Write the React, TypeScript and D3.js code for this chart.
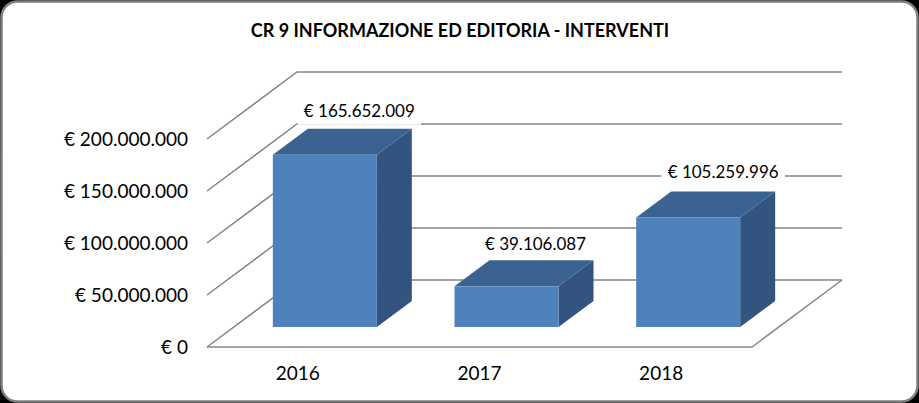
import * as d3 from 'd3';

const categories = ['2016', '2017', '2018'];
const values = [165652009, 39106087, 105259996];
const valueLabels = ['€ 165.652.009', '€ 39.106.087', '€ 105.259.996'];
const yTicks = [0, 50000000, 100000000, 150000000, 200000000];
const yTickLabels = ['€ 0', '€ 50.000.000', '€ 100.000.000', '€ 150.000.000', '€ 200.000.000'];

const width = 919;
const height = 403;
const font = 'Lato, Carlito, Calibri, sans-serif';

// oblique offset of the back wall and of the bars
const wall = { dx: 90, dy: -67 };
const barShift = { dx: 27, dy: -20 };
const barDepth = { dx: 35, dy: -26 };
// data labels were placed by hand in the original
const labelNudge = [
  { dx: 34.5, dy: -38 },
  { dx: 29, dy: -36 },
  { dx: 35, dy: -40 },
];

const x = d3.scaleBand<string>()
  .domain(categories)
  .range([207, 752])
  .paddingInner(0.4275)
  .paddingOuter(0.21375);

const y = d3.scaleLinear().domain([0, 200000000]).range([347, 139]);

const line = d3.line();

export default function App() {
  const floorY = y(0);
  const xLeft = x.range()[0];
  const xRight = x.range()[1];

  return (
    <svg
      width={width}
      height={height}
      style={{ position: 'absolute', left: 0, top: 0, display: 'block', background: '#000' }}
    >
      <rect x={1.5} y={1.5} width={width - 3} height={height - 3} rx={16} fill="#fff" stroke="#7f7f7f" strokeWidth={2.5} />

      <text x={460} y={36.5} textAnchor="middle" fontFamily={font} fontWeight={700} fontSize={18} fill="#000">
        CR 9 INFORMAZIONE ED EDITORIA - INTERVENTI
      </text>

      {/* walls and floor */}
      <g fill="none" stroke="#868686" strokeWidth={1.5}>
        {yTicks.map(t => (
          <path
            key={t}
            d={line([
              [xLeft, y(t)],
              [xLeft + wall.dx, y(t) + wall.dy],
              [xRight + wall.dx, y(t) + wall.dy],
            ]) as string}
          />
        ))}
        <path
          d={line([
            [xLeft, floorY],
            [xRight, floorY],
            [xRight + wall.dx, floorY + wall.dy],
          ]) as string}
        />
      </g>

      {/* bars */}
      {categories.map((c, i) => {
        const x0 = (x(c) as number) + barShift.dx;
        const x1 = x0 + x.bandwidth();
        const bottom = floorY + barShift.dy;
        const top = y(values[i]) + barShift.dy;
        const { dx, dy } = barDepth;
        return (
          <g key={c}>
            <path fill="#32547E" d={line([[x1, top], [x1 + dx, top + dy], [x1 + dx, bottom + dy], [x1, bottom]]) + 'Z'} />
            <path fill="#3B6391" d={line([[x0, top], [x0 + dx, top + dy], [x1 + dx, top + dy], [x1, top]]) + 'Z'} />
            <rect x={x0} y={top} width={x.bandwidth()} height={bottom - top} fill="#4F81BD" />
          </g>
        );
      })}

      {/* data labels sit on a white box that cuts the gridlines */}
      {categories.map((c, i) => {
        const cx = (x(c) as number) + barShift.dx + x.bandwidth() / 2 + labelNudge[i].dx;
        const top = y(values[i]) + barShift.dy;
        const boxW = valueLabels[i].length * 9.5;
        return (
          <g key={c}>
            <rect x={cx - boxW / 2} y={top + labelNudge[i].dy - 18} width={boxW} height={26} fill="#fff" />
            <text x={cx} y={top + labelNudge[i].dy} textAnchor="middle" fontFamily={font} fontSize={17} fill="#000">
              {valueLabels[i]}
            </text>
          </g>
        );
      })}

      {yTicks.map((t, i) => (
        <text key={t} x={188} y={y(t) + 7} textAnchor="end" fontFamily={font} fontSize={19} fill="#000">
          {yTickLabels[i]}
        </text>
      ))}

      {categories.map(c => (
        <text
          key={c}
          x={(x(c) as number) + x.bandwidth() / 2}
          y={380}
          textAnchor="middle"
          fontFamily={font}
          fontSize={19}
          fill="#000"
        >
          {c}
        </text>
      ))}
    </svg>
  );
}
